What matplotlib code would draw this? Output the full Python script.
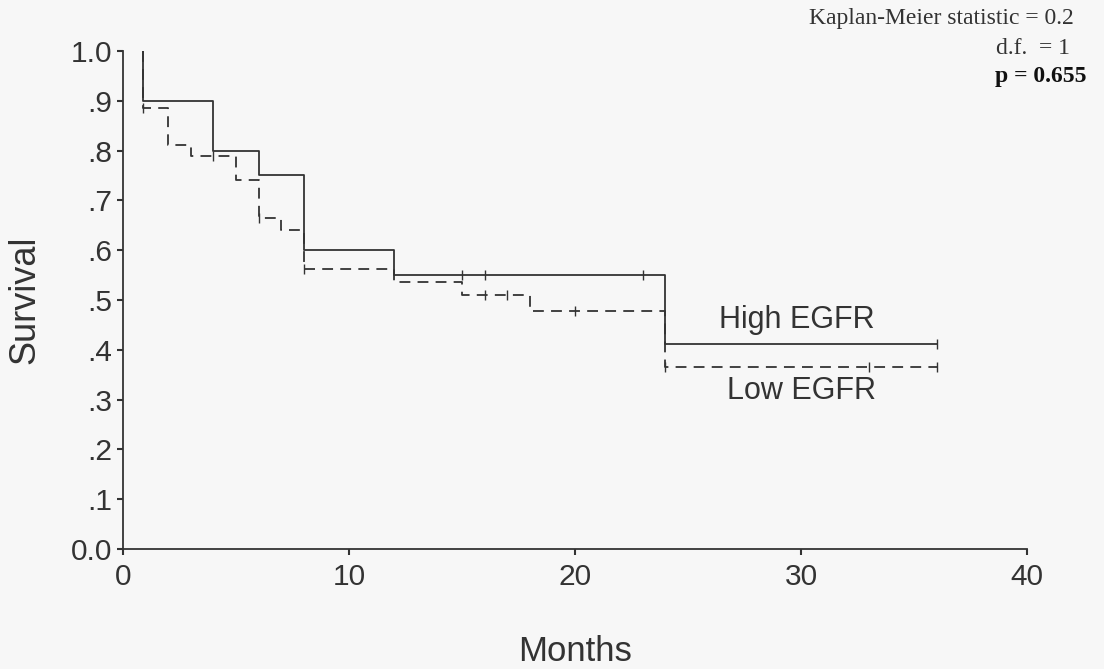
import matplotlib
matplotlib.use("Agg")
import matplotlib.pyplot as plt

# Kaplan-Meier survival estimates by EGFR expression (months)
high_times = [0.9, 0.9, 4, 6, 8, 12, 24, 36]
high_surv = [1.0, 0.9, 0.8, 0.75, 0.6, 0.55, 0.4125, 0.4125]
high_cens_t = [15, 16, 23, 36]
high_cens_s = [0.55, 0.55, 0.55, 0.4125]

low_times = [0.9, 0.9, 2, 3, 5, 6, 7, 8, 12, 15, 18, 24, 36]
low_surv = [1.0, 0.885, 0.812, 0.79, 0.74, 0.665, 0.641, 0.563, 0.537, 0.51, 0.478, 0.366, 0.366]
low_cens_t = [0.9, 4, 6, 8, 16, 17, 20, 24, 33, 36]
low_cens_s = [0.885, 0.79, 0.665, 0.563, 0.51, 0.51, 0.478, 0.366, 0.366, 0.366]

x_ticks = [0, 10, 20, 30, 40]
y_ticks = [0.0, 0.1, 0.2, 0.3, 0.4, 0.5, 0.6, 0.7, 0.8, 0.9, 1.0]
y_labels = ["0.0", ".1", ".2", ".3", ".4", ".5", ".6", ".7", ".8", ".9", "1.0"]

ink = "#333333"
sans = "Liberation Sans"
serif = "Liberation Serif"

fig = plt.figure(figsize=(11.04, 6.69), dpi=100, facecolor="#f7f7f7")
ax = fig.add_axes([0.1114, 0.1794, 0.819, 0.7444])
ax.set_facecolor("#f7f7f7")

ax.step(high_times, high_surv, where="post", color=ink, lw=1.3)
ax.step(low_times, low_surv, where="post", color=ink, lw=1.3, linestyle=(0, (6, 4)))
ax.plot(high_cens_t, high_cens_s, linestyle="none", marker="|", ms=7, mew=1.0, color=ink)
ax.plot(low_cens_t, low_cens_s, linestyle="none", marker="|", ms=7, mew=1.0, color=ink)

ax.set_xlim(0, 40)
ax.set_ylim(0, 1.0)
ax.set_xticks(x_ticks)
ax.set_yticks(y_ticks)
ax.set_yticklabels(y_labels)
for lbl in ax.get_xticklabels() + ax.get_yticklabels():
    lbl.set_fontfamily(sans)
    lbl.set_fontsize(21.5)
    lbl.set_color(ink)
ax.tick_params(direction="out", length=4, width=1.5, color=ink)
ax.tick_params(axis="x", pad=6)
ax.tick_params(axis="y", pad=4)

for side in ("top", "right"):
    ax.spines[side].set_visible(False)
for side in ("left", "bottom"):
    ax.spines[side].set_color(ink)
    ax.spines[side].set_linewidth(1.3)

ax.set_ylabel("Survival", family=sans, fontsize=26, color=ink)
ax.set_xlabel("Months", family=sans, fontsize=25, color=ink)
ax.yaxis.set_label_coords(-0.089, 0.5)
ax.xaxis.set_label_coords(0.5, -0.172)

ax.text(29.8, 0.46, "High EGFR", family=sans, fontsize=22, color=ink, ha="center", va="center")
ax.text(30.0, 0.318, "Low EGFR", family=sans, fontsize=22, color=ink, ha="center", va="center")

fig.text(0.973, 0.972, "Kaplan-Meier statistic = 0.2", family=serif, fontsize=17,
         color=ink, ha="right", va="center")
fig.text(0.969, 0.928, "d.f.  = 1", family=serif, fontsize=17,
         color=ink, ha="right", va="center")
fig.text(0.984, 0.886, "p = 0.655", family=serif, fontsize=17, fontweight="bold",
         color="#111111", ha="right", va="center")

fig.savefig("out.png", dpi=100, facecolor=fig.get_facecolor())
